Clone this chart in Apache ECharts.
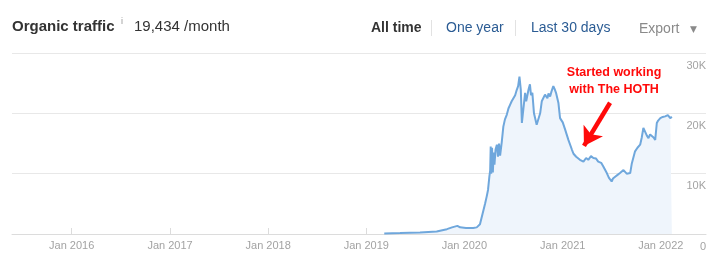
<!DOCTYPE html>
<html><head><meta charset="utf-8">
<script src="https://cdn.jsdelivr.net/npm/echarts@6/dist/echarts.min.js"></script>
<style>html,body{margin:0;padding:0;background:#fff}#c{width:720px;height:271px}</style>
</head><body><div id="c"></div>
<script>
const dates = ['2019-03-09','2019-05-07','2019-07-20','2019-09-20','2019-10-28','2019-11-16','2019-12-06','2019-12-16','2020-01-07','2020-02-03','2020-02-16','2020-02-28','2020-03-09','2020-03-18','2020-03-24','2020-03-29','2020-04-03','2020-04-06','2020-04-08','2020-04-10','2020-04-13','2020-04-16','2020-04-19','2020-04-22','2020-04-26','2020-05-01','2020-05-05','2020-05-09','2020-05-13','2020-05-19','2020-05-25','2020-05-31','2020-06-07','2020-06-13','2020-06-19','2020-06-25','2020-07-01','2020-07-08','2020-07-14','2020-07-19','2020-07-24','2020-07-29','2020-08-02','2020-08-07','2020-08-14','2020-08-18','2020-08-22','2020-08-27','2020-09-01','2020-09-05','2020-09-10','2020-09-16','2020-09-26','2020-10-02','2020-10-09','2020-10-15','2020-10-21','2020-10-27','2020-11-05','2020-11-09','2020-11-15','2020-11-20','2020-11-27','2020-12-02','2020-12-07','2020-12-16','2020-12-22','2021-01-01','2021-01-10','2021-01-22','2021-02-04','2021-02-10','2021-02-20','2021-02-27','2021-03-06','2021-03-19','2021-03-29','2021-04-06','2021-04-16','2021-04-25','2021-05-05','2021-05-13','2021-05-24','2021-06-01','2021-06-14','2021-06-22','2021-07-02','2021-07-07','2021-07-15','2021-07-24','2021-08-02','2021-08-15','2021-08-21','2021-08-27','2021-09-09','2021-09-15','2021-09-27','2021-10-06','2021-10-16','2021-10-22','2021-10-28','2021-11-04','2021-11-10','2021-11-16','2021-11-22','2021-11-28','2021-12-05','2021-12-11','2021-12-17','2021-12-22','2021-12-30','2022-01-08','2022-01-17','2022-01-27','2022-02-05','2022-02-11'];
const traffic = [100,150,250,400,800,1100,1350,1100,1000,1000,1100,1600,3400,5000,6200,7300,9500,10500,14500,10000,14300,10200,13500,11500,14000,14800,12800,15000,13000,15200,17800,19000,19800,20800,21400,22000,22300,23000,23900,24500,26100,23900,18400,18100,23400,22000,22300,24000,24800,23000,23400,20000,18100,18100,20000,22000,22300,23100,22500,23300,22800,23600,24500,24000,23400,21700,19200,18500,17300,15600,14000,13300,12800,13000,12300,12000,12600,12300,12900,12600,12500,12000,11800,11200,10100,9300,8700,9200,9500,9800,10100,10600,10300,10000,10100,11700,13700,14300,14800,16000,17600,17300,16300,15900,16500,16200,16000,15600,18400,18800,19200,19400,19500,19700,19200,19434];
const yTicks = [0,10000,20000,30000];
const xMin = '2015-05-24', xMax = '2022-06-18';
const noteText = 'Started working\nwith The HOTH';
const noteAt = ['2021-07-11', 25300];
const arrowFrom = ['2021-06-26', 21760], arrowTo = ['2021-03-21', 14600];

const chart = echarts.init(document.getElementById('c'), null, {renderer:'canvas'});
const F = 'Liberation Sans, Arial, sans-serif';
chart.setOption({
  animation:false,
  grid:{left:12,right:14,top:53,bottom:37,containLabel:false},
  xAxis:{type:'time',min:xMin,max:xMax,boundaryGap:false,
    minInterval:365*86400000, maxInterval:366*86400000,
    axisLine:{lineStyle:{color:'#dcdcdc'}},
    axisTick:{inside:true,length:6,lineStyle:{color:'#dcdcdc'}},
    splitLine:{show:false},
    axisLabel:{color:'#a3a3a3',fontSize:11,fontFamily:F,margin:6,
      formatter:function(v){const d=new Date(v);return (d.getMonth()===0&&d.getDate()===1)?'Jan '+d.getFullYear():'';}}
  },
  yAxis:{type:'value',position:'right',min:yTicks[0],max:yTicks[yTicks.length-1],interval:10000,
    axisLine:{show:false},axisTick:{show:false},
    splitLine:{lineStyle:{color:'#e8e8e8'}},
    axisLabel:{inside:true,margin:0,color:'#a3a3a3',fontSize:11,fontFamily:F,verticalAlign:'top',padding:[7,0,0,0],
      formatter:function(v){return v===0?'0':(v/1000)+'K';}}
  },
  series:[{type:'line',data:dates.map((d,i)=>[d,traffic[i]]),showSymbol:false,symbol:'none',
    lineStyle:{color:'#6fa7dc',width:2},itemStyle:{color:'#6fa7dc'},
    areaStyle:{color:'#eff5fc',opacity:1},
    markLine:{silent:true,animation:false,symbol:['none','arrow'],symbolSize:[17,18],label:{show:false},
      lineStyle:{color:'#ff0a0a',width:4.5,type:'solid'},
      data:[[{coord:arrowFrom},{coord:arrowTo}]]},
    markPoint:{silent:true,symbol:'circle',symbolSize:0,
      data:[{coord:noteAt,label:{show:true,formatter:noteText,color:'#ff0a0a',fontWeight:'bold',fontSize:12.5,lineHeight:16.7,
        fontFamily:F,align:'center',verticalAlign:'middle',position:'inside'}}]}
  }],
  graphic:[
    {type:'text',left:12,top:19,style:{text:'Organic traffic',font:'bold 15px '+F,fill:'#333'}},
    {type:'text',left:121,top:17,style:{text:'i',font:'9px '+F,fill:'#999'}},
    {type:'text',left:134,top:19,style:{text:'19,434 /month',font:'15px '+F,fill:'#333'}},
    {type:'text',left:371,top:21,style:{text:'All time',font:'bold 14px '+F,fill:'#333'}},
    {type:'rect',left:431,top:20,shape:{width:1,height:16},style:{fill:'#e2e2e2'}},
    {type:'text',left:446,top:21,style:{text:'One year',font:'14px '+F,fill:'#2b5c94'}},
    {type:'rect',left:515,top:20,shape:{width:1,height:16},style:{fill:'#e2e2e2'}},
    {type:'text',left:531,top:21,style:{text:'Last 30 days',font:'14px '+F,fill:'#2b5c94'}},
    {type:'text',left:639,top:22,style:{text:'Export',font:'14px '+F,fill:'#8a8a8a'}},
    {type:'text',left:690,top:25,style:{text:'▼',font:'9px DejaVu Sans',fill:'#8a8a8a'}}
  ]
});
</script></body></html>
